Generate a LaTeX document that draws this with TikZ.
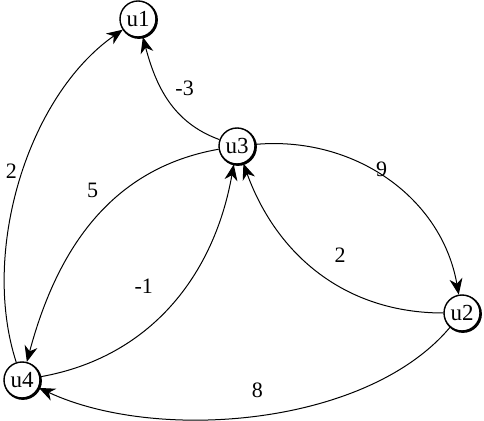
\documentclass[tikz,border=0pt]{standalone}
\usepackage{fontspec}
\setmainfont{Liberation Serif}
\usetikzlibrary{arrows.meta}

\tikzset{
  vertex/.style={circle, draw, line width=1.4pt, fill=white, minimum size=36pt, inner sep=0pt,
    font=\fontsize{23}{25}\selectfont,
    preaction={draw, line width=2pt, transform canvas={xshift=0.9pt, yshift=-0.9pt}}},
  edge/.style={-{Stealth[length=16pt, width=13pt, inset=5pt]}, line width=1pt},
  wlabel/.style={font=\fontsize{22}{24}\selectfont, inner sep=3pt}
}

\begin{document}
\begin{tikzpicture}[x=1pt, y=1pt]

% Frame
\useasboundingbox (0,0) rectangle (484,420);

% Vertices
\node[vertex] (u1) at (138,401) {u1};
\node[vertex] (u3) at (237,274) {u3};
\node[vertex] (u2) at (462,107) {u2};
\node[vertex] (u4) at (22,40) {u4};

% Weighted edges
\draw[edge] (u4) to[out=108, in=215, looseness=0.85] node[wlabel, pos=0.5, left, yshift=8pt] {2} (u1);
\draw[edge] (u3) to[out=160, in=285] node[wlabel, pos=0.45, above right, yshift=6pt] {-3} (u1);
\draw[edge] (u3) to[out=190, in=75] node[wlabel, pos=0.45, above left, yshift=10pt] {5} (u4);
\draw[edge] (u4) to[out=10, in=260] node[wlabel, pos=0.55, above left, xshift=-24pt, yshift=-4pt] {-1} (u3);
\draw[edge] (u3) to[out=5, in=100] node[wlabel, pos=0.5, above right, xshift=-15pt] {9} (u2);
\draw[edge] (u2) to[out=180, in=290] node[wlabel, pos=0.5, above right, xshift=12pt, yshift=7pt] {2} (u3);
\draw[edge] (u2) to[out=230, in=335, looseness=0.8] node[wlabel, pos=0.5, above=14pt] {8} (u4);

\end{tikzpicture}
\end{document}
